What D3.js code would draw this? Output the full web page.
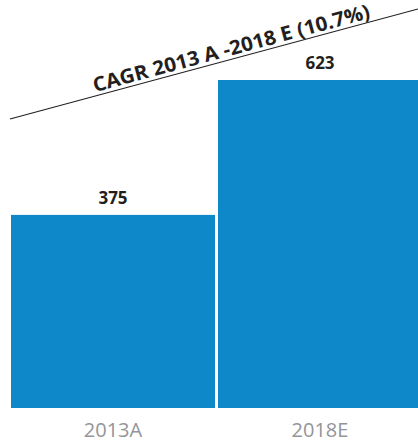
<!DOCTYPE html>
<html>
<head>
<meta charset="utf-8">
<script src="https://cdn.jsdelivr.net/npm/d3@7"></script>
<style>
  html, body { margin: 0; padding: 0; background: #fff; }
  svg { display: block; }
</style>
</head>
<body>
<div id="chart"></div>
<script>
var categories = ['2013A', '2018E'];
var values = [375, 623];
var cagrLabel = 'CAGR 2013 A -2018 E (10.7%)';

var width = 418, height = 446;
var barColor = '#0f88ca';

var svg = d3.select('#chart').append('svg')
    .attr('width', width)
    .attr('height', height);

var x = d3.scaleBand()
    .domain(categories)
    .range([11, 422])
    .paddingInner(0.0145)
    .paddingOuter(0);

// axis does not start at zero in the original picture
var y = d3.scaleLinear()
    .domain([20, 623])
    .range([408, 80]);

svg.selectAll('rect.bar')
    .data(values)
    .enter().append('rect')
    .attr('class', 'bar')
    .attr('x', function(d, i) { return x(categories[i]); })
    .attr('width', x.bandwidth())
    .attr('y', function(d) { return y(d); })
    .attr('height', function(d) { return y(20) - y(d); })
    .attr('fill', barColor);

// value labels
svg.selectAll('text.val')
    .data(values)
    .enter().append('text')
    .attr('class', 'val')
    .attr('x', function(d, i) { return x(categories[i]) + x.bandwidth() / 2; })
    .attr('y', function(d) { return y(d) - 11; })
    .attr('text-anchor', 'middle')
    .style('font-family', '"Open Sans", sans-serif')
    .style('font-weight', 'bold')
    .style('font-size', '17px')
    .style('fill', '#231f20')
    .text(function(d) { return d; });

// category labels
svg.selectAll('text.cat')
    .data(categories)
    .enter().append('text')
    .attr('class', 'cat')
    .attr('x', function(d) { return x(d) + x.bandwidth() / 2; })
    .attr('y', 437)
    .attr('text-anchor', 'middle')
    .style('font-family', '"Open Sans", sans-serif')
    .style('font-size', '20px')
    .style('fill', '#939598')
    .text(function(d) { return d; });

// CAGR line
var x0 = 10, y0 = 119, x1 = 418, y1 = 9;
svg.append('line')
    .attr('x1', x0).attr('y1', y0)
    .attr('x2', x1).attr('y2', y1)
    .attr('stroke', '#231f20')
    .attr('stroke-width', 1.2);

var angle = Math.atan2(y1 - y0, x1 - x0) * 180 / Math.PI;
svg.append('text')
    .attr('transform', 'translate(233,55) rotate(' + angle + ')')
    .attr('text-anchor', 'middle')
    .attr('textLength', 286)
    .attr('lengthAdjust', 'spacingAndGlyphs')
    .style('font-family', '"Open Sans", sans-serif')
    .style('font-weight', 'bold')
    .style('font-size', '20px')
    .style('fill', '#231f20')
    .text(cagrLabel);
</script>
</body>
</html>
